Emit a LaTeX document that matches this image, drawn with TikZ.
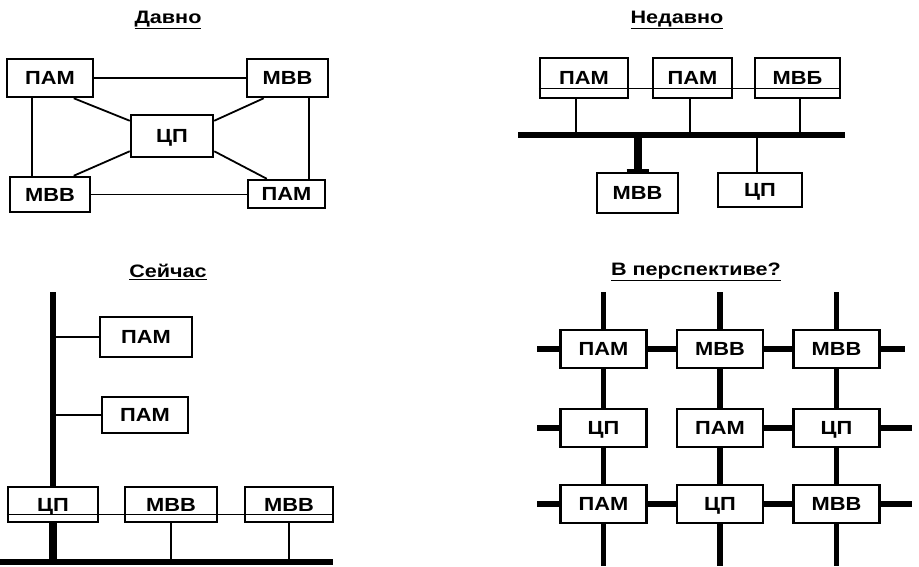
\documentclass[tikz,border=0pt]{standalone}
\usepackage{fontspec}
\setmainfont{Liberation Sans}
\newfontfamily\boxfont[FakeStretch=1.15]{Liberation Sans}
\newfontfamily\ttlfont[FakeStretch=1.2]{Liberation Sans}
\usetikzlibrary{calc}
\begin{document}
\begin{tikzpicture}[x=1pt,y=-1pt,
  unit/.style={draw, line width=2.5pt, fill=white, inner sep=0pt,
    minimum width=86pt, minimum height=38pt, text height=13.5pt, text depth=0pt,
    font=\boxfont\bfseries\fontsize{19}{21}\selectfont},
  ttl/.style={font=\ttlfont\bfseries\fontsize{18}{20}\selectfont, inner sep=0pt},
  thinln/.style={line width=1.8pt},
  hair/.style={line width=1pt},
  midln/.style={line width=2.8pt},
  bus/.style={line width=5.5pt},
  stem/.style={line width=8pt},
]
\useasboundingbox (0,0) rectangle (919,566);

% ---------------- Давно ----------------
\node[ttl] (t1) at (168,20) {\underline{Давно}};
\node[unit, minimum width=86pt, minimum height=38pt] (a1) at (50,78) {ПАМ};
\node[unit, minimum width=81pt, minimum height=38pt] (a2) at (287.5,78) {МВВ};
\node[unit, minimum width=82pt, minimum height=42pt] (a3) at (172,136) {ЦП};
\node[unit, minimum width=80pt, minimum height=35pt] (a4) at (50,194.5) {МВВ};
\node[unit, minimum width=77pt, minimum height=28pt] (a5) at (286.5,194) {ПАМ};
\draw[thinln] (a1) -- (a2);
\draw[thinln] (a4.east) -- (a4.east -| a5.west);
\draw[thinln] ($(a1.south west)+(26,0)$) -- ($(a4.north west)+(23,0)$);
\draw[thinln] ($(a2.south west)+(63,0)$) -- ($(a5.north west)+(62,0)$);
\draw[thinln] ($(a1.south west)+(68,0)$) -- ($(a3.north west)+(0,7)$);
\draw[thinln] ($(a2.south west)+(18,0)$) -- ($(a3.north east)+(0,7)$);
\draw[thinln] ($(a3.south west)+(0,-7)$) -- ($(a4.north west)+(65,0)$);
\draw[thinln] ($(a3.south east)+(0,-7)$) -- ($(a5.north west)+(20,0)$);

% ---------------- Недавно ----------------
\node[ttl] (t2) at (677,20) {\underline{Недавно}};
\node[unit, minimum width=88pt, minimum height=40pt] (b1) at (584,78) {ПАМ};
\node[unit, minimum width=79pt, minimum height=40pt] (b2) at (692.5,78) {ПАМ};
\node[unit, minimum width=85pt, minimum height=40pt] (b3) at (797.5,78) {МВБ};
\draw[hair] ($(b1.west)+(0,10)$) -- ($(b3.east)+(0,10)$);
\coordinate (bl) at (518,135);
\coordinate (br) at (845,135);
\draw[bus] (bl) -- (br);
\coordinate (d1) at (576,135);
\coordinate (d2) at (690,135);
\coordinate (d3) at (800,135);
\coordinate (d4) at (638,135);
\coordinate (d5) at (757,135);
\draw[midln] (d1) -- (d1 |- b1.south);
\draw[thinln] (d2) -- (d2 |- b2.south);
\draw[midln] (d3) -- (d3 |- b3.south);
\node[unit, minimum width=81pt, minimum height=40pt] (b4) at (637.5,193) {МВВ};
\node[unit, minimum width=84pt, minimum height=34pt] (b5) at (760,190) {ЦП};
\draw[stem] (d4) -- (d4 |- b4.north);
\draw[line width=3pt] ($(b4.north)+(-11,-1.5)$) -- ($(b4.north)+(11,-1.5)$);
\draw[thinln] (d5) -- (d5 |- b5.north);

% ---------------- Сейчас ----------------
\node[ttl] (t3) at (168,272) {\underline{Сейчас}};
\coordinate (v0) at (53,292);
\node[unit, minimum width=90pt, minimum height=35pt] (c1) at (53,504.5) {ЦП};
\draw[bus, line width=6pt] (v0) -- (c1.north);
\node[unit, minimum width=92pt, minimum height=40pt] (c2) at (146,337) {ПАМ};
\node[unit, minimum width=86pt, minimum height=36pt] (c3) at (145,415) {ПАМ};
\draw[thinln] (c2.west) -- (c2.west -| v0);
\draw[thinln] (c3.west) -- (c3.west -| v0);
\node[unit, minimum width=92pt, minimum height=35pt] (c4) at (171,504.5) {МВВ};
\node[unit, minimum width=88pt, minimum height=35pt] (c5) at (289,504.5) {МВВ};
\draw[hair] ($(c1.west)+(0,10)$) -- ($(c5.east)+(0,10)$);
\coordinate (h0) at (0,562);
\coordinate (h1) at (333,562);
\draw[line width=6pt] (h0) -- (h1);
\draw[stem] (c1.south) -- (c1.south |- h0);
\draw[midln] (c4.south) -- (c4.south |- h0);
\draw[midln] (c5.south) -- (c5.south |- h0);

% ---------------- В перспективе? ----------------
\node[ttl] (t4) at (696,272) {\underline{В перспективе?}};
\node[unit] (g11) at (603.5,349) {ПАМ};
\node[unit] (g12) at (720,349) {МВВ};
\node[unit] (g13) at (836.5,349) {МВВ};
\node[unit] (g21) at (603.5,428) {ЦП};
\node[unit] (g22) at (720,428) {ПАМ};
\node[unit] (g23) at (836.5,428) {ЦП};
\node[unit] (g31) at (603.5,504) {ПАМ};
\node[unit] (g32) at (720,504) {ЦП};
\node[unit] (g33) at (836.5,504) {МВВ};
\coordinate (u1) at (603.5,292);
\coordinate (u2) at (720,292);
\coordinate (u3) at (836.5,292);
\coordinate (w1) at (603.5,566);
\coordinate (w2) at (720,566);
\coordinate (w3) at (836.5,566);
\draw[bus] (u1) -- (g11); \draw[bus] (g11) -- (g21); \draw[bus] (g21) -- (g31); \draw[bus] (g31) -- (w1);
\draw[bus] (u2) -- (g12); \draw[bus] (g12) -- (g22); \draw[bus] (g22) -- (g32); \draw[bus] (g32) -- (w2);
\draw[bus] (u3) -- (g13); \draw[bus] (g13) -- (g23); \draw[bus] (g23) -- (g33); \draw[bus] (g33) -- (w3);
\coordinate (l1) at (537,349);
\coordinate (l2) at (537,428);
\coordinate (l3) at (537,504);
\coordinate (r1) at (905,349);
\coordinate (r2) at (912,428);
\coordinate (r3) at (912,504);
\draw[bus] (l1) -- (g11); \draw[bus] (g11) -- (g12); \draw[bus] (g12) -- (g13); \draw[bus] (g13) -- (r1);
\draw[bus] (l2) -- (g21); \draw[bus] (g22) -- (g23); \draw[bus] (g23) -- (r2);
\draw[bus] (l3) -- (g31); \draw[bus] (g31) -- (g32); \draw[bus] (g32) -- (g33); \draw[bus] (g33) -- (r3);
\end{tikzpicture}
\end{document}
